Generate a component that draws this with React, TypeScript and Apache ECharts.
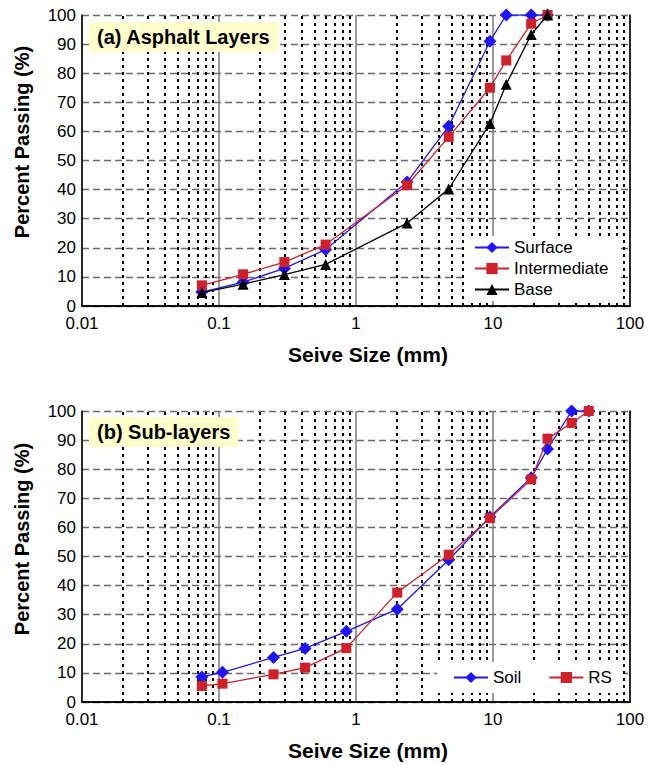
import React, { useEffect, useRef } from "react";
import * as echarts from "echarts";

// ---- Axis ticks ----
const xTickLabels = ["0.01", "0.1", "1", "10", "100"];
const decadeStarts = [0.01, 0.1, 1, 10];
const minorMultipliers = [2, 3, 4, 5, 6, 7, 8, 9];

// ---- (a) Asphalt layers ----
const sieveA = [0.075, 0.15, 0.3, 0.6, 2.36, 4.75, 9.5, 12.5, 19, 25];
const surface = [4.8, 8.2, 12.9, 19.4, 42.6, 61.8, 91, 100, 100, 100];
const intermediate = [7.1, 10.9, 15.1, 21.1, 41.5, 58.1, 75, 84.4, 97, 100];
const base = [4.6, 7.5, 10.8, 14.3, 28.5, 40.2, 62.7, 76.2, 93.3, 100];

// ---- (b) Sub-layers ----
const sieveB = [0.075, 0.106, 0.25, 0.425, 0.85, 2, 4.75, 9.5, 19, 25, 37.5, 50];
const soil = [8.6, 10.2, 15.3, 18.4, 24.3, 31.9, 48.9, 63.6, 77.1, 86.9, 100, 100];
const rs = [5.5, 6.3, 9.5, 11.8, 18.5, 37.6, 50.6, 63.2, 76.5, 90.5, 95.9, 100];

const FONT = "'Liberation Sans', Arial, Helvetica, sans-serif";
const BLUE = "#1f14ff";
const RED = "#d0202a";
const BLACK = "#000000";

const minorValues: number[] = [];
decadeStarts.forEach((d) => minorMultipliers.forEach((m) => minorValues.push(+(d * m).toPrecision(3))));

const pairs = (xs: number[], ys: number[]) => xs.map((x, i) => [x, ys[i]]);

function makeAxes(gridIndex: number) {
  const xMain = {
    type: "log",
    logBase: 10,
    gridIndex,
    min: 0.01,
    max: 100,
    splitNumber: 4,
    axisLine: { show: true, lineStyle: { color: "#000", width: 1.5 } },
    axisTick: { show: false },
    axisLabel: {
      show: true,
      margin: 9,
      color: "#000",
      fontSize: 17,
      fontFamily: FONT,
      formatter: (v: number) => {
        const i = Math.round(Math.log10(v)) + 2;
        return xTickLabels[i] ?? "";
      },
    },
    splitLine: { show: true, lineStyle: { color: "#7a7a7a", width: 1.5, type: "solid" } },
  };
  const xTop = {
    type: "log",
    logBase: 10,
    gridIndex,
    position: "top",
    min: 0.01,
    max: 100,
    splitNumber: 4,
    axisLine: { show: true, lineStyle: { color: "#000", width: 1.5 } },
    axisTick: { show: false },
    axisLabel: { show: false },
    splitLine: { show: false },
  };
  const yMain = {
    type: "value",
    gridIndex,
    min: 0,
    max: 100,
    interval: 10,
    axisLine: { show: true, lineStyle: { color: "#000", width: 1.5 } },
    axisTick: { show: false },
    axisLabel: { margin: 6, color: "#000", fontSize: 17, fontFamily: FONT },
    splitLine: { show: true, lineStyle: { color: "#6a6a6a", width: 1.3, type: [7, 4] } },
  };
  const yRight = {
    type: "value",
    gridIndex,
    position: "right",
    min: 0,
    max: 100,
    interval: 10,
    axisLine: { show: true, lineStyle: { color: "#000", width: 1.5 } },
    axisTick: { show: false },
    axisLabel: { show: false },
    splitLine: { show: false },
  };
  return { xMain, xTop, yMain, yRight };
}

function minorGridSeries(xAxisIndex: number, yAxisIndex: number) {
  return {
    type: "line",
    name: "_minor" + xAxisIndex,
    xAxisIndex,
    yAxisIndex,
    data: [],
    z: 1,
    silent: true,
    markLine: {
      z: 1,
      silent: true,
      symbol: "none",
      animation: false,
      label: { show: false },
      lineStyle: { color: "#000", width: 2, type: [3, 4] },
      emphasis: { disabled: true },
      data: minorValues.map((v) => ({ xAxis: v })),
    },
  };
}

function dataSeries(
  name: string,
  xs: number[],
  ys: number[],
  xAxisIndex: number,
  yAxisIndex: number,
  color: string,
  symbol: string,
  symbolSize: number,
  z2: number
) {
  return {
    type: "line",
    name,
    xAxisIndex,
    yAxisIndex,
    data: pairs(xs, ys),
    symbol,
    symbolSize,
    z: 2 + z2 * 0.1,
    lineStyle: { color, width: 1.3 },
    itemStyle: { color },
    emphasis: { disabled: true },
  };
}

export default function App() {
  const ref = useRef<HTMLDivElement>(null);

  useEffect(() => {
    if (!ref.current) return;
    const chart = echarts.init(ref.current, null, { renderer: "svg" });

    const a = makeAxes(0);
    const b = makeAxes(1);

    const option = {
      animation: false,
      backgroundColor: "#ffffff",
      textStyle: { fontFamily: FONT },
      grid: [
        { left: 82, top: 15, width: 548, height: 291, containLabel: false },
        { left: 82, top: 411, width: 548, height: 291, containLabel: false },
      ],
      xAxis: [a.xMain, a.xTop, b.xMain, b.xTop],
      yAxis: [a.yMain, a.yRight, b.yMain, b.yRight],
      title: [
        {
          text: "(a) Asphalt Layers",
          left: 89,
          top: 22,
          z: 10,
          padding: [5, 8, 5, 8],
          backgroundColor: "#ffffcc",
          textStyle: { fontSize: 20, fontWeight: "bold", color: "#000", fontFamily: FONT },
        },
        {
          text: "(b) Sub-layers",
          left: 89,
          top: 417,
          z: 10,
          padding: [5, 8, 5, 8],
          backgroundColor: "#ffffcc",
          textStyle: { fontSize: 20, fontWeight: "bold", color: "#000", fontFamily: FONT },
        },
      ],
      legend: [
        {
          data: ["Surface", "Intermediate", "Base"],
          orient: "vertical",
          left: 467,
          top: 236,
          z: 10,
          padding: [3, 10, 3, 7],
          itemGap: 4,
          itemWidth: 34,
          itemHeight: 14,
          backgroundColor: "#ffffff",
          textStyle: { fontSize: 17, color: "#000", fontFamily: FONT },
          selectedMode: false,
        },
        {
          data: ["Soil", "RS"],
          orient: "horizontal",
          left: 437,
          top: 662,
          z: 10,
          padding: [7, 11, 7, 16],
          itemGap: 27,
          itemWidth: 34,
          itemHeight: 14,
          backgroundColor: "#ffffff",
          textStyle: { fontSize: 17, color: "#000", fontFamily: FONT },
          selectedMode: false,
        },
      ],
      series: [
        minorGridSeries(0, 0),
        dataSeries("Surface", sieveA, surface, 0, 0, BLUE, "diamond", 13, 1),
        dataSeries("Intermediate", sieveA, intermediate, 0, 0, RED, "rect", 10, 2),
        dataSeries("Base", sieveA, base, 0, 0, BLACK, "triangle", 11, 3),
        minorGridSeries(2, 2),
        dataSeries("Soil", sieveB, soil, 2, 2, BLUE, "diamond", 13, 1),
        dataSeries("RS", sieveB, rs, 2, 2, RED, "rect", 10, 2),
      ],
      graphic: [
        {
          type: "text",
          x: 22,
          y: 142,
          rotation: Math.PI / 2,
          style: {
            text: "Percent Passing (%)",
            fontSize: 20,
            fontWeight: "bold",
            fontFamily: FONT,
            fill: "#000",
            align: "center",
            verticalAlign: "middle",
          },
        },
        {
          type: "text",
          x: 22,
          y: 539,
          rotation: Math.PI / 2,
          style: {
            text: "Percent Passing (%)",
            fontSize: 20,
            fontWeight: "bold",
            fontFamily: FONT,
            fill: "#000",
            align: "center",
            verticalAlign: "middle",
          },
        },
        {
          type: "text",
          x: 368,
          y: 354,
          style: {
            text: "Seive Size (mm)",
            fontSize: 21,
            fontWeight: "bold",
            fontFamily: FONT,
            fill: "#000",
            align: "center",
            verticalAlign: "middle",
          },
        },
        {
          type: "text",
          x: 368,
          y: 750,
          style: {
            text: "Seive Size (mm)",
            fontSize: 21,
            fontWeight: "bold",
            fontFamily: FONT,
            fill: "#000",
            align: "center",
            verticalAlign: "middle",
          },
        },
      ],
    };

    chart.setOption(option as any);
    return () => chart.dispose();
  }, []);

  return (
    <div
      ref={ref}
      style={{ position: "absolute", left: 0, top: 0, width: 648, height: 765 }}
    />
  );
}
